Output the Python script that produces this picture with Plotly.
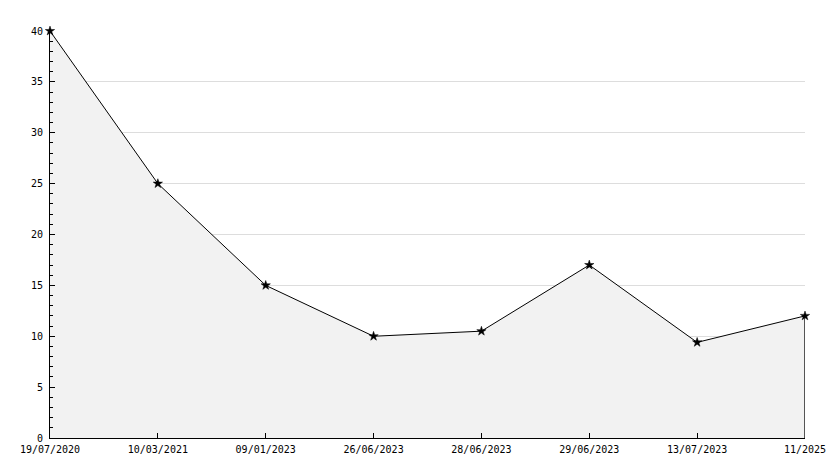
import plotly.graph_objects as go

dates = ["19/07/2020", "10/03/2021", "09/01/2023", "26/06/2023",
         "28/06/2023", "29/06/2023", "13/07/2023", "11/2025"]
values = [40, 25, 15, 10, 10.5, 17, 9.4, 12]

FONT = "DejaVu Sans Mono, monospace"

fig = go.Figure()

# area + line with star markers
fig.add_trace(
    go.Scatter(
        x=dates,
        y=values,
        mode="lines+markers",
        fill="tozeroy",
        fillcolor="#f2f2f2",
        line=dict(color="black", width=1),
        marker=dict(symbol="star", size=7, color="black", line=dict(color="black", width=0.5)),
        cliponaxis=False,
        showlegend=False,
        hoverinfo="x+y",
    )
)

# closing edge of the area on the right
fig.add_trace(
    go.Scatter(
        x=[dates[-1], dates[-1]],
        y=[0, values[-1]],
        mode="lines",
        line=dict(color="black", width=1.3),
        cliponaxis=False,
        showlegend=False,
        hoverinfo="skip",
    )
)

# page body has a default 8px margin, so the figure is shrunk to fit
fig.update_layout(
    width=826,
    height=460,
    margin=dict(l=42, r=29, t=23, b=30),
    paper_bgcolor="white",
    plot_bgcolor="white",
    font=dict(family=FONT, size=10, color="black"),
    xaxis=dict(
        type="category",
        range=[0, len(dates) - 1],
        automargin=False,
        showgrid=False,
        zeroline=False,
        showline=True,
        linecolor="black",
        linewidth=1,
        ticks="inside",
        ticklen=5,
        tickcolor="black",
        ticklabelstandoff=2,
        tickfont=dict(family=FONT, size=10),
    ),
    yaxis=dict(
        range=[0, 40],
        dtick=5,
        automargin=False,
        showgrid=True,
        gridcolor="#dddddd",
        gridwidth=1,
        zeroline=False,
        showline=True,
        linecolor="black",
        linewidth=1,
        ticks="inside",
        ticklen=5,
        tickcolor="black",
        ticklabelstandoff=4,
        minor=dict(dtick=1, ticks="inside", ticklen=3, tickcolor="black", showgrid=False),
        tickfont=dict(family=FONT, size=10),
    ),
)

fig.write_html("out.html")
